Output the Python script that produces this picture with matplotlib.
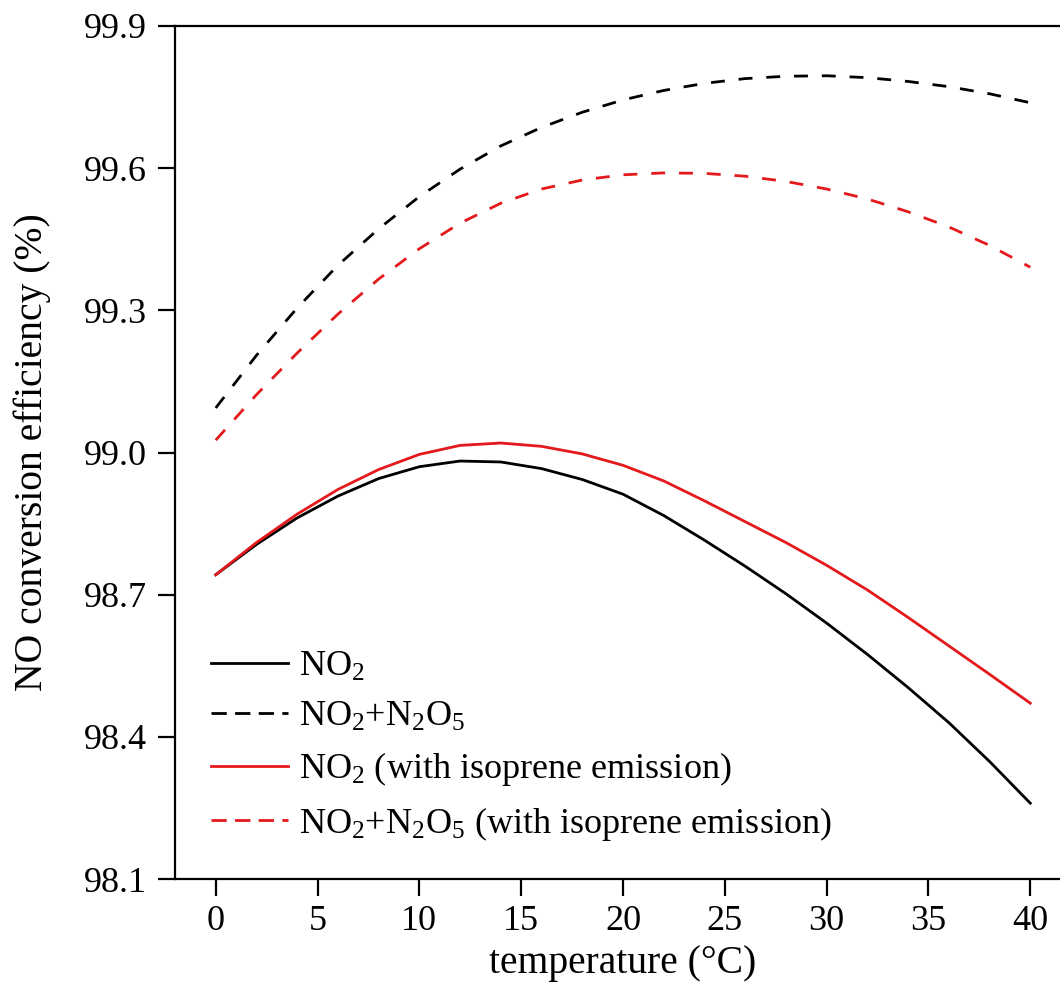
import matplotlib
matplotlib.use("Agg")
import matplotlib.pyplot as plt

# ---- data ----
temperature = [0, 2, 4, 6, 8, 10, 12, 14, 16, 18, 20, 22, 24, 26, 28, 30, 32, 34, 36, 38, 40]
no2 = [98.742, 98.806, 98.862, 98.908, 98.945, 98.970, 98.982, 98.980, 98.966, 98.943, 98.912,
       98.867, 98.815, 98.760, 98.702, 98.640, 98.574, 98.504, 98.430, 98.348, 98.260]
no2_n2o5 = [99.094, 99.205, 99.305, 99.395, 99.472, 99.540, 99.598, 99.647, 99.686, 99.718, 99.744,
            99.764, 99.779, 99.789, 99.794, 99.795, 99.791, 99.783, 99.772, 99.757, 99.738]
no2_iso = [98.742, 98.810, 98.870, 98.922, 98.964, 98.996, 99.015, 99.020, 99.013, 98.997, 98.973,
           98.940, 98.898, 98.854, 98.810, 98.762, 98.710, 98.652, 98.592, 98.532, 98.471]
no2_n2o5_iso = [99.026, 99.122, 99.210, 99.292, 99.366, 99.430, 99.484, 99.526, 99.556, 99.575, 99.586,
                99.590, 99.589, 99.583, 99.572, 99.556, 99.535, 99.508, 99.476, 99.437, 99.391]

labels = [r"NO$_2$", r"NO$_2$+N$_2$O$_5$", r"NO$_2$ (with isoprene emission)",
          r"NO$_2$+N$_2$O$_5$ (with isoprene emission)"]
x_ticks = [0, 5, 10, 15, 20, 25, 30, 35, 40]
y_ticks = [98.1, 98.4, 98.7, 99.0, 99.3, 99.6, 99.9]

plt.rcParams["font.family"] = ["Liberation Serif", "DejaVu Serif"]
plt.rcParams["mathtext.default"] = "regular"

fig = plt.figure(figsize=(10.6, 9.91), dpi=100)
# the original frame extends slightly past the right edge of the image
ax = fig.add_axes([175 / 1060, 1 - 879 / 991, 896 / 1060, (879 - 26) / 991])

red = "#e3191c"
lw = 2.0
ax.plot(temperature, no2, color="black", lw=lw, label=labels[0])
ax.plot(temperature, no2_n2o5, color="black", lw=lw, ls=(0, (5, 5)), label=labels[1])
ax.plot(temperature, no2_iso, color=red, lw=lw, label=labels[2])
ax.plot(temperature, no2_n2o5_iso, color=red, lw=lw, ls=(0, (5, 5)), label=labels[3])

ax.set_xlim(-2, 42)
ax.set_ylim(98.1, 99.9)
ax.set_xticks(x_ticks)
ax.set_yticks(y_ticks)
ax.set_yticklabels([f"{v:.1f}" for v in y_ticks])

for s in ["left", "top", "bottom", "right"]:
    ax.spines[s].set_linewidth(1.6)
ax.tick_params(axis="both", direction="out", length=12, width=1.6, labelsize=26,
               top=False, right=False)
ax.tick_params(axis="y", pad=8)
ax.tick_params(axis="x", pad=7)

ax.set_xlabel("temperature (°C)", fontsize=28.5, labelpad=5)
ax.set_ylabel("NO conversion efficiency (%)", fontsize=28.5, labelpad=24)

leg = ax.legend(loc="upper left", bbox_to_anchor=(0.040, 0.268), frameon=False, fontsize=26,
                handlelength=2.15, handletextpad=0.3, labelspacing=0.46, borderaxespad=0,
                borderpad=0)
for h in leg.legend_handles[1::2]:
    h.set_dashes((5.5, 3.0))

fig.savefig("out.png", dpi=100)
